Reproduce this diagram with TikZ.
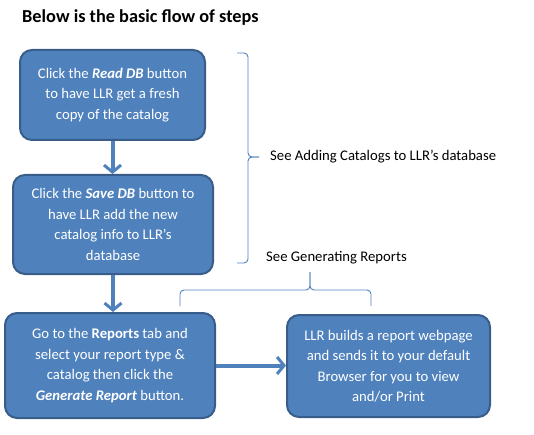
\documentclass[tikz,border=0pt]{standalone}
\usepackage{fontspec}
\setmainfont{Carlito}
\usetikzlibrary{arrows.meta}

\definecolor{boxblue}{HTML}{4F81BD}
\definecolor{boxedge}{HTML}{385D8A}

\tikzset{
  stepbox/.style={rounded corners=12pt, fill=boxblue, draw=boxedge, line width=2pt,
    text=white, align=center, inner sep=0pt,
    font=\fontsize{14.7}{20.5}\selectfont},
  flow/.style={boxblue, line width=4pt, -{Straight Barb[length=7pt,width=17pt,line width=3pt]}},
  bracket/.style={boxblue, line width=0.9pt, rounded corners=4pt},
  note/.style={anchor=west, inner sep=0pt, font=\fontsize{14.7}{17}\selectfont}
}

\begin{document}
\begin{tikzpicture}[x=1pt,y=-1pt]
  \useasboundingbox (0,0) rectangle (534,435);

  \node[anchor=west, inner sep=0pt, font=\fontsize{18.3}{21}\selectfont\bfseries] (title) at (22,18)
    {Below is the basic flow of steps};

  \node[stepbox, minimum width=185pt, minimum height=90pt] (readdb) at (112.5,95)
    {Click the \textbf{\textit{Read DB}} button\\to have LLR get a fresh\\copy of the catalog};
  \node[stepbox, minimum width=200pt, minimum height=99pt] (savedb) at (113,224.5)
    {Click the \textbf{\textit{Save DB}} button to\\have LLR add the new\\catalog info to LLR’s\\database};
  \node[stepbox, minimum width=210pt, minimum height=105pt] (reports) at (110,365.5)
    {Go to the \textbf{Reports} tab and\\select your report type \&\\catalog then click the\\\textbf{\textit{Generate Report}} button.};
  \node[stepbox, minimum width=203pt, minimum height=102pt] (build) at (388.5,366)
    {LLR builds a report webpage\\and sends it to your default\\Browser for you to view\\and/or Print};

  \foreach \from/\to in {readdb/savedb, savedb/reports}
    \draw[flow] (\from.south) -- (\from.south |- \to.north);
  \draw[flow] (reports.east) -- (reports.east -| build.west);

  % braces
  \draw[bracket] (237,53) -- (248,53) -- (248,157) -- (259,157);
  \draw[bracket] (237,263) -- (248,263) -- (248,157) -- (259,157);
  \draw[bracket] (180,306) -- (180,290) -- (310,290) -- (310,272);
  \draw[bracket] (371,306) -- (371,290) -- (310,290) -- (310,272);

  \node[note] (dbnote) at (270,157) {See Adding Catalogs to LLR’s database};
  \node[note] (repnote) at (266,258) {See Generating Reports};
\end{tikzpicture}
\end{document}
